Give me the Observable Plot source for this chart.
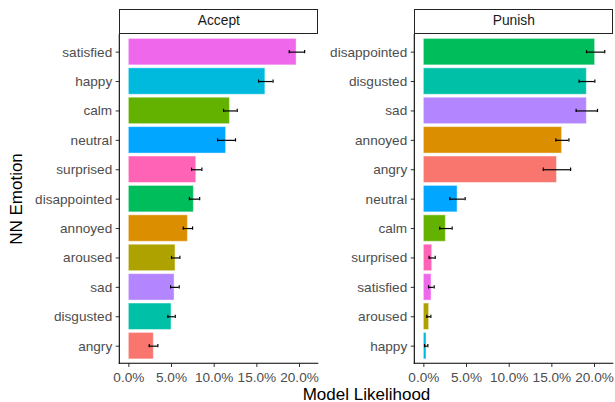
<!DOCTYPE html>
<html>
<head>
<meta charset="utf-8">
<script src="https://cdn.jsdelivr.net/npm/d3@7"></script>
<script src="https://cdn.jsdelivr.net/npm/@observablehq/plot@0.6"></script>
<style>
  body { margin: 0; background: #fff; }
  #wrap { position: relative; width: 615px; height: 402px; overflow: hidden;
          font-family: "Liberation Sans", Arial, Helvetica, sans-serif; background: #fff; }
  .panel { position: absolute; top: 0; }
  .strip { position: absolute; top: 9px; height: 24.5px; box-sizing: border-box;
           border: 1.2px solid #222; background: #fff; text-align: center;
           line-height: 22px; font-size: 13.8px; color: #1a1a1a; }
  .title { position: absolute; font-size: 17px; color: #000; white-space: nowrap; text-align: center; }
</style>
</head>
<body>
<div id="wrap"></div>
<script>
// ---- data ----
const allEmotions = ["angry","annoyed","aroused","calm","disappointed","disgusted","happy","neutral","sad","satisfied","surprised"];
const emotionColors = ["#F8766D","#DB8E00","#AEA200","#64B200","#00BD5C","#00C1A7","#00BADE","#00A6FF","#B385FF","#EF67EB","#FF63B6"];

const acceptEmotions = ["satisfied","happy","calm","neutral","surprised","disappointed","annoyed","aroused","sad","disgusted","angry"];
const acceptMean = [0.1966, 0.1600, 0.1185, 0.1140, 0.0790, 0.0762, 0.0692, 0.0547, 0.0536, 0.0500, 0.0293];
const acceptLow  = [0.1880, 0.1520, 0.1110, 0.1040, 0.0735, 0.0710, 0.0638, 0.0500, 0.0489, 0.0457, 0.0239];
const acceptHigh = [0.2060, 0.1690, 0.1270, 0.1250, 0.0856, 0.0830, 0.0747, 0.0598, 0.0590, 0.0544, 0.0340];

const punishEmotions = ["disappointed","disgusted","sad","annoyed","angry","neutral","calm","surprised","satisfied","aroused","happy"];
const punishMean = [0.2007, 0.1910, 0.1910, 0.1620, 0.1560, 0.0395, 0.0258, 0.0098, 0.0090, 0.0062, 0.0031];
const punishLow  = [0.1906, 0.1820, 0.1785, 0.1547, 0.1400, 0.0305, 0.0187, 0.0062, 0.0055, 0.0035, 0.0008];
const punishHigh = [0.2120, 0.2004, 0.2035, 0.1700, 0.1720, 0.0484, 0.0332, 0.0133, 0.0121, 0.0082, 0.0047];

const facetLabels = ["Accept", "Punish"];
const xTicks = [0, 0.05, 0.10, 0.15, 0.20];
const xLabel = "Model Likelihood";
const yLabel = "NN Emotion";

// ---- chart ----
const FONT = '"Liberation Sans", Arial, Helvetica, sans-serif';
const wrap = document.getElementById("wrap");

function axisLines(index, scales, values, dims) {
  const {width, height, marginLeft, marginRight, marginTop, marginBottom} = dims;
  const g = d3.create("svg:g").attr("stroke", "#000").attr("stroke-width", 1.1);
  g.append("line").attr("x1", marginLeft).attr("x2", marginLeft)
    .attr("y1", marginTop).attr("y2", height - marginBottom + 0.55);
  g.append("line").attr("x1", marginLeft - 0.55).attr("x2", width - marginRight)
    .attr("y1", height - marginBottom).attr("y2", height - marginBottom);
  return g.node();
}

function panel(names, mean, lo, hi, left, width, marginLeft, marginRight) {
  const rows = names.map((e, i) => ({emotion: e, mean: mean[i], lo: lo[i], hi: hi[i]}));
  const svg = Plot.plot({
    width, height: 402,
    marginTop: 34, marginBottom: 38.7, marginLeft, marginRight,
    style: {fontFamily: FONT, fontSize: "13.6px", color: "#4D4D4D", background: "transparent"},
    x: {domain: [-0.0106, 0.2226], ticks: xTicks, tickFormat: ".1%", label: null},
    y: {domain: names, paddingInner: 0.1, paddingOuter: 0.15, round: false, label: null},
    color: {domain: allEmotions, range: emotionColors},
    marks: [
      Plot.barX(rows, {x: "mean", y: "emotion", fill: "emotion", stroke: "white", strokeOpacity: 0.45, strokeWidth: 1}),
      Plot.ruleY(rows, {y: "emotion", x1: "lo", x2: "hi", stroke: "#000", strokeWidth: 1.2}),
      Plot.tickX(rows, {x: "lo", y: "emotion", insetTop: 11.6, insetBottom: 11.6, stroke: "#000", strokeWidth: 1.2}),
      Plot.tickX(rows, {x: "hi", y: "emotion", insetTop: 11.6, insetBottom: 11.6, stroke: "#000", strokeWidth: 1.2}),
      Plot.axisX({ticks: xTicks, tickFormat: ".1%", tickSize: 3.7, tickPadding: 4.5, stroke: "#333", fill: "#4D4D4D", label: null}),
      Plot.axisY({tickSize: 3.6, tickPadding: 4, stroke: "#333", fill: "#4D4D4D", label: null}),
      axisLines
    ]
  });
  const div = document.createElement("div");
  div.className = "panel";
  div.style.left = left + "px";
  div.appendChild(svg);
  wrap.appendChild(div);
}

panel(acceptEmotions, acceptMean, acceptLow, acceptHigh, 0, 319, 119.3, 0.7);
panel(punishEmotions, punishMean, punishLow, punishHigh, 318, 297, 96.3, 1.7);

// strips
[[119.3, facetLabels[0]], [414.3, facetLabels[1]]].forEach(([x, t]) => {
  const s = document.createElement("div");
  s.className = "strip";
  s.style.left = x + "px";
  s.style.width = "199px";
  s.textContent = t;
  wrap.appendChild(s);
});

// axis titles
const xt = document.createElement("div");
xt.className = "title";
xt.style.left = (366.5 - 150) + "px";
xt.style.width = "300px";
xt.style.top = "385.5px";
xt.style.lineHeight = "17px";
xt.textContent = xLabel;
wrap.appendChild(xt);

const yt = document.createElement("div");
yt.className = "title";
yt.style.left = (17.4 - 100) + "px";
yt.style.top = (198.5 - 10) + "px";
yt.style.width = "200px";
yt.style.height = "20px";
yt.style.lineHeight = "20px";
yt.style.transform = "rotate(-90deg)";
yt.textContent = yLabel;
wrap.appendChild(yt);
</script>
</body>
</html>
